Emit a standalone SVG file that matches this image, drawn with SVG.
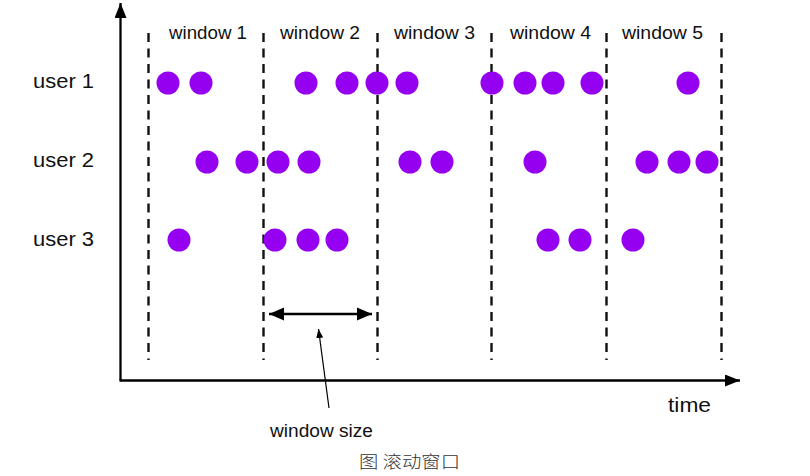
<svg xmlns="http://www.w3.org/2000/svg" width="810" height="476" viewBox="0 0 810 476">
<style>
  .t { font-family: "Liberation Sans", Arial, sans-serif; fill: #111; }
  .dash { stroke: #111; stroke-width: 2.4; stroke-dasharray: 9 6.5; fill: none; }
  .dot { fill: #9600f0; }
  .axis { stroke: #000; stroke-width: 2.3; fill: none; }
</style>
<defs>
  <marker id="bigHead" markerUnits="userSpaceOnUse" markerWidth="16" markerHeight="12" refX="15" refY="6" orient="auto-start-reverse">
    <path d="M0,0 L15,6 L0,12 Z" fill="#000"/>
  </marker>
  <marker id="sizeHead" markerUnits="userSpaceOnUse" markerWidth="16" markerHeight="14" refX="15" refY="7" orient="auto-start-reverse">
    <path d="M0,0.5 L15,7 L0,13.5 Z" fill="#000"/>
  </marker>
  <marker id="smallHead" markerUnits="userSpaceOnUse" markerWidth="10" markerHeight="8" refX="9" refY="3.5" orient="auto">
    <path d="M0,0 L9,3.5 L0,7 Z" fill="#000"/>
  </marker>
</defs>
<rect width="810" height="476" fill="#fff"/>

<g id="axes">
  <line class="axis" x1="120.5" y1="380.5" x2="120.5" y2="3" marker-end="url(#bigHead)"/>
  <line class="axis" x1="119.5" y1="380.5" x2="740" y2="380.5" marker-end="url(#bigHead)"/>
</g>

<g id="window-bounds">
  <line class="dash" x1="148.5" y1="33" x2="148.5" y2="360"/>
  <line class="dash" x1="263.5" y1="33" x2="263.5" y2="360"/>
  <line class="dash" x1="377.5" y1="33" x2="377.5" y2="360"/>
  <line class="dash" x1="491.5" y1="33" x2="491.5" y2="360"/>
  <line class="dash" x1="606.5" y1="33" x2="606.5" y2="360"/>
  <line class="dash" x1="721.5" y1="33" x2="721.5" y2="360"/>
</g>

<g id="window-labels">
  <text class="t" x="169" y="39" font-size="17.5" textLength="78" lengthAdjust="spacingAndGlyphs">window 1</text>
  <text class="t" x="280" y="39" font-size="17.5" textLength="80" lengthAdjust="spacingAndGlyphs">window 2</text>
  <text class="t" x="394" y="39" font-size="17.5" textLength="81" lengthAdjust="spacingAndGlyphs">window 3</text>
  <text class="t" x="510" y="39" font-size="17.5" textLength="81" lengthAdjust="spacingAndGlyphs">window 4</text>
  <text class="t" x="622" y="39" font-size="17.5" textLength="81" lengthAdjust="spacingAndGlyphs">window 5</text>
</g>

<g id="user1">
  <text class="t" x="33" y="88" font-size="20" textLength="61" lengthAdjust="spacingAndGlyphs">user 1</text>
  <circle class="dot" cx="168" cy="83" r="11.5"/>
  <circle class="dot" cx="201" cy="83" r="11.5"/>
  <circle class="dot" cx="306" cy="83" r="11.5"/>
  <circle class="dot" cx="347" cy="83" r="11.5"/>
  <circle class="dot" cx="377" cy="83" r="11.5"/>
  <circle class="dot" cx="407" cy="83" r="11.5"/>
  <circle class="dot" cx="492" cy="83" r="11.5"/>
  <circle class="dot" cx="525" cy="83" r="11.5"/>
  <circle class="dot" cx="553" cy="83" r="11.5"/>
  <circle class="dot" cx="592" cy="83" r="11.5"/>
  <circle class="dot" cx="688" cy="83" r="11.5"/>
</g>

<g id="user2">
  <text class="t" x="33" y="167" font-size="20" textLength="61" lengthAdjust="spacingAndGlyphs">user 2</text>
  <circle class="dot" cx="207" cy="162" r="11.5"/>
  <circle class="dot" cx="247" cy="162" r="11.5"/>
  <circle class="dot" cx="278" cy="162" r="11.5"/>
  <circle class="dot" cx="309" cy="162" r="11.5"/>
  <circle class="dot" cx="410" cy="162" r="11.5"/>
  <circle class="dot" cx="442" cy="162" r="11.5"/>
  <circle class="dot" cx="535" cy="162" r="11.5"/>
  <circle class="dot" cx="647" cy="162" r="11.5"/>
  <circle class="dot" cx="679" cy="162" r="11.5"/>
  <circle class="dot" cx="707" cy="162" r="11.5"/>
</g>

<g id="user3">
  <text class="t" x="33" y="246" font-size="20" textLength="61" lengthAdjust="spacingAndGlyphs">user 3</text>
  <circle class="dot" cx="179" cy="240" r="11.5"/>
  <circle class="dot" cx="275" cy="240" r="11.5"/>
  <circle class="dot" cx="308" cy="240" r="11.5"/>
  <circle class="dot" cx="337" cy="240" r="11.5"/>
  <circle class="dot" cx="548" cy="240" r="11.5"/>
  <circle class="dot" cx="580" cy="240" r="11.5"/>
  <circle class="dot" cx="633" cy="240" r="11.5"/>
</g>

<g id="connectors">
  <line x1="269" y1="314" x2="372" y2="314" stroke="#000" stroke-width="2.5" marker-start="url(#sizeHead)" marker-end="url(#sizeHead)"/>
  <line x1="329" y1="408" x2="318.5" y2="329" stroke="#000" stroke-width="1.2" marker-end="url(#smallHead)"/>
</g>

<g id="labels">
  <text class="t" x="668" y="412" font-size="20" textLength="43" lengthAdjust="spacingAndGlyphs">time</text>
  <text class="t" x="270" y="437" font-size="17.5" textLength="103" lengthAdjust="spacingAndGlyphs">window size</text>
  <text x="359" y="468" font-size="17" font-family="'Noto Sans CJK SC', 'Noto Sans CJK JP', sans-serif" font-weight="300" fill="#333" textLength="101" lengthAdjust="spacingAndGlyphs">图 滚动窗口</text>
</g>
</svg>
